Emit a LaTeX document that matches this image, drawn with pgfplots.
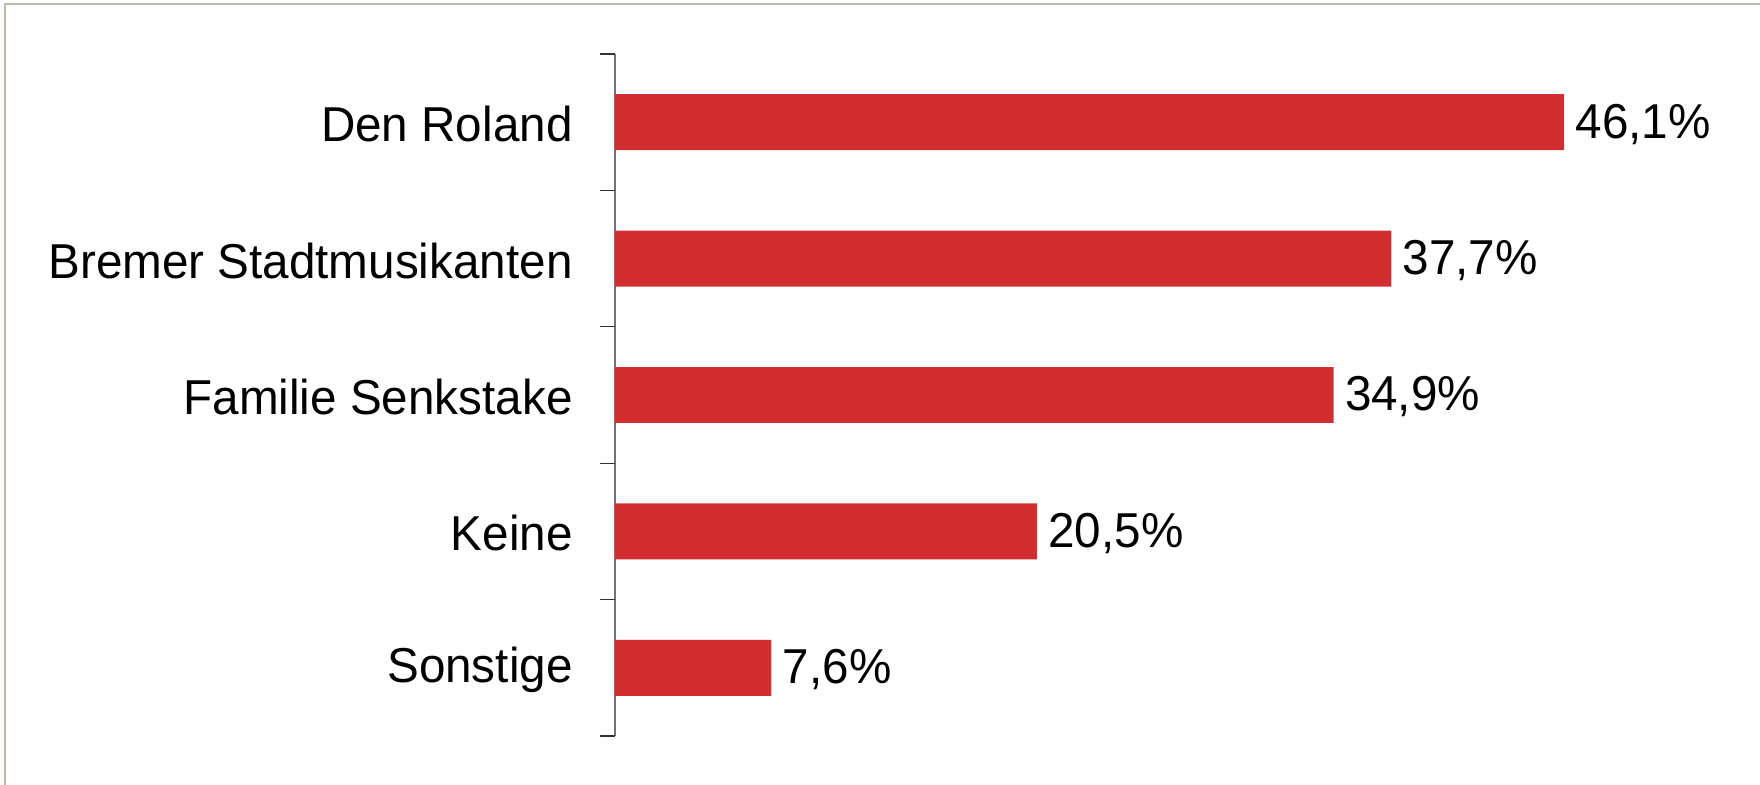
\documentclass[border=0pt]{standalone}
\usepackage{fontspec}
\setmainfont{Liberation Sans}[FakeStretch=0.972]
\usepackage{pgfplots}
\pgfplotsset{compat=1.18}
\definecolor{barred}{RGB}{210,46,48}
\definecolor{framec}{RGB}{190,185,172}
\begin{document}
\begin{tikzpicture}
\useasboundingbox (0,0) rectangle (880pt,392.5pt);
\draw[framec, line width=1pt] (2.5pt,0) -- (2.5pt,390.25pt) -- (880pt,390.25pt);
\begin{axis}[
 at={(307.5pt,24.5pt)}, anchor=south west,
 scale only axis, width=514.75pt, height=341pt,
 xmin=0, xmax=50, ymin=-0.5, ymax=4.5, y dir=reverse,
 axis x line=none, axis y line*=left,
 y axis line style={draw=black!55, line width=0.6pt},
 ytick={0,1,2,3,4},
 yticklabels={Den Roland, Bremer Stadtmusikanten, Familie Senkstake, Keine, Sonstige},
 major tick length=0pt,
 extra y ticks={-0.5,0.5,1.5,2.5,3.5,4.5},
 extra y tick labels={},
 extra y tick style={major tick length=7.5pt, tick align=outside, tick style={black!80, line width=0.6pt}},
 yticklabel style={font=\fontsize{24.5}{29}\selectfont, anchor=east, inner sep=0pt, xshift=-21pt, yshift=-1pt},
 xbar, bar width=0.41,
 clip=false,
 point meta=x,
 nodes near coords={\pgfmathprintnumber[fixed,fixed zerofill,precision=1,use comma,assume math mode=true]{\pgfplotspointmeta}\%},
 nodes near coords style={font=\fontsize{24.5}{29}\selectfont, anchor=west, inner sep=0pt, xshift=5.5pt, yshift=-1pt},
]
\addplot[fill=barred, draw=none] coordinates {(46.1,0) (37.7,1) (34.9,2) (20.5,3) (7.6,4)};
\end{axis}
\end{tikzpicture}
\end{document}
